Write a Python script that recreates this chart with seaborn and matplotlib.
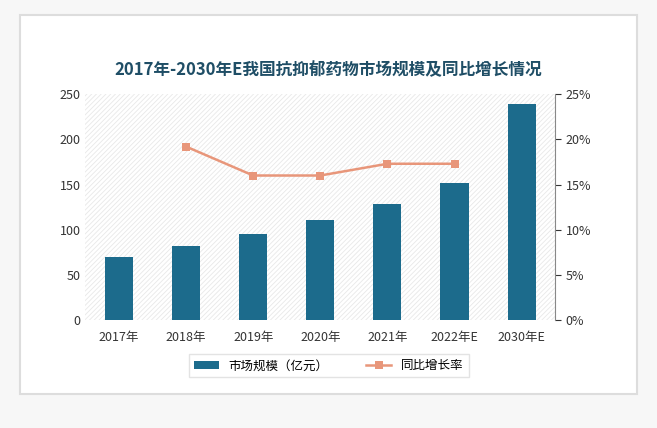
import matplotlib
matplotlib.use("Agg")
import matplotlib.pyplot as plt
import seaborn as sns
import pandas as pd
from matplotlib.patches import FancyBboxPatch
from matplotlib import font_manager

years = ["2017年", "2018年", "2019年", "2020年", "2021年", "2022年E", "2030年E"]
market = [69.5, 81.5, 95, 110.5, 129, 151.5, 239]
growth_years = ["2018年", "2019年", "2020年", "2021年", "2022年E"]
growth = [19.2, 16.0, 16.0, 17.3, 17.3]

names = sorted({f.name for f in font_manager.fontManager.ttflist})
cjk = [n for n in names if "CJK" in n]
plt.rcParams["font.family"] = "sans-serif"
plt.rcParams["font.sans-serif"] = ["Noto Sans CJK SC"] + cjk + ["DejaVu Sans"]
plt.rcParams["hatch.linewidth"] = 0.6

fig = plt.figure(figsize=(6.57, 4.28), dpi=100)
fig.patch.set_facecolor("#f7f7f7")
fig.patches.append(FancyBboxPatch((0.03, 0.08), 0.94, 0.885, boxstyle="square,pad=0",
                                  transform=fig.transFigure, facecolor="white",
                                  edgecolor="#dddddd", lw=1.5, zorder=-10))
ax = fig.add_axes([0.13, 0.252, 0.715, 0.528])
ax.set_facecolor("white")
ax.patch.set_hatch("///////")
ax.patch.set_edgecolor("#e8e8e8")
df = pd.DataFrame({"year": years, "market": market})
sns.barplot(data=df, x="year", y="market", color="#1c6b8c", width=0.42, ax=ax,
            saturation=1, label="市场规模（亿元）", legend=False)
ax.set_ylim(0, 250)
ax.set_yticks(range(0, 251, 50))
ax.set_xlabel(""); ax.set_ylabel("")
for s in ax.spines.values():
    s.set_visible(False)
ax.tick_params(length=0, labelsize=9, colors="#333333")
ax.tick_params(axis="x", pad=8)

ax2 = ax.twinx()
xpos = [years.index(y) for y in growth_years]
sns.lineplot(x=xpos, y=growth, ax=ax2, color="#e8967a", marker="s", markersize=6,
             markeredgewidth=0, lw=1.8, label="同比增长率")
ax2.set_ylim(0, 25)
ax2.set_yticks(range(0, 26, 5))
ax2.set_yticklabels([f"{v}%" for v in range(0, 26, 5)])
for s in ax2.spines.values():
    s.set_visible(False)
ax2.spines["right"].set_visible(True)
ax2.spines["right"].set_color("#888888")
ax2.tick_params(axis="y", length=4, labelsize=9, colors="#333333")
ax2.legend_.remove()
ax.set_xlim(-0.5, 6.5)
if ax.legend_ is not None:
    ax.legend_.remove()

h1, l1 = ax.get_legend_handles_labels()
h2, l2 = ax2.get_legend_handles_labels()
fig.legend(h1 + h2, l1 + l2, loc="center", bbox_to_anchor=(0.5, 0.145), ncol=2,
           frameon=True, edgecolor="#dddddd", fancybox=False, fontsize=9, columnspacing=3)

fig.text(0.5, 0.835, "2017年-2030年E我国抗抑郁药物市场规模及同比增长情况", ha="center",
         va="center", fontsize=12, fontweight="bold", color="#1f4e66")
fig.savefig("out.png", dpi=100)
